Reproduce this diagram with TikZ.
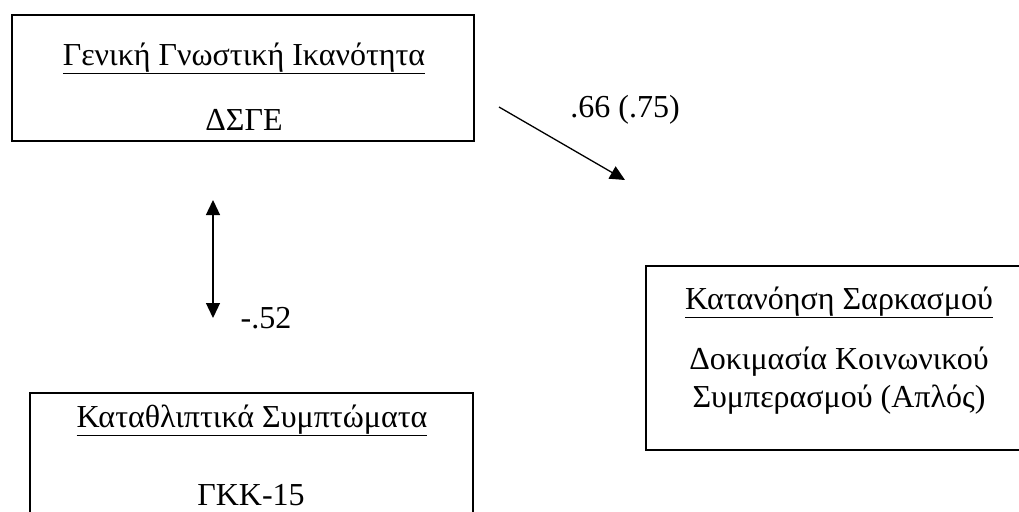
\documentclass[tikz,border=0pt]{standalone}
\usepackage{fontspec}
\setmainfont{Liberation Serif}
\usetikzlibrary{arrows.meta}

\tikzset{every picture/.style={line width=1.3pt}}
\tikzset{
  boxnode/.style={draw,inner sep=0pt},
  txt/.style={anchor=base,inner sep=0pt,font=\fontsize{32}{38}\selectfont},
  tip/.style={-{Triangle[length=15pt,width=14pt]}},
  dtip/.style={{Triangle[length=15pt,width=14pt]}-{Triangle[length=15pt,width=14pt]}},
}

\begin{document}
\begin{tikzpicture}[x=1pt,y=1pt,yscale=-1,xscale=1]
        \useasboundingbox (0,0) rectangle (1019,511);

        %Box: general ability
        \node[boxnode,minimum width=462pt,minimum height=126pt] (gen) at (243,78) {};
        \node[txt] (genT) at (244,65) {\underline{Γενική Γνωστική Ικανότητα}};
        \node[txt] (genM) at (244,130) {ΔΣΓΕ};

        %Box: sarcasm
        \node[boxnode,minimum width=386pt,minimum height=184pt] (sar) at (839,358) {};
        \node[txt] (sarT) at (839,309) {\underline{Κατανόηση Σαρκασμού}};
        \node[txt] (sarM1) at (839,369) {Δοκιμασία Κοινωνικού};
        \node[txt] (sarM2) at (839,407) {Συμπερασμού (Απλός)};

        %Box: depression
        \node[boxnode,minimum width=443pt,minimum height=160pt] (dep) at (251.5,473) {};
        \node[txt] (depT) at (252,427) {\underline{Καταθλιπτικά Συμπτώματα}};
        \node[txt] (depM) at (251,505) {ΓΚΚ-15};

        %Arrow gen -> sar
        \coordinate (a1) at (499,107);
        \coordinate (a2) at (625,180);
        \draw[tip] (a1) -- (a2);
        \node[txt] (w1) at (625,117) {.66 (.75)};

        %Double arrow gen <-> dep
        \coordinate (b1) at (213,200);
        \coordinate (b2) at (213,318);
        \draw[dtip] (b1) -- (b2);
        \node[txt] (w2) at (266,328) {-.52};

\end{tikzpicture}
\end{document}
